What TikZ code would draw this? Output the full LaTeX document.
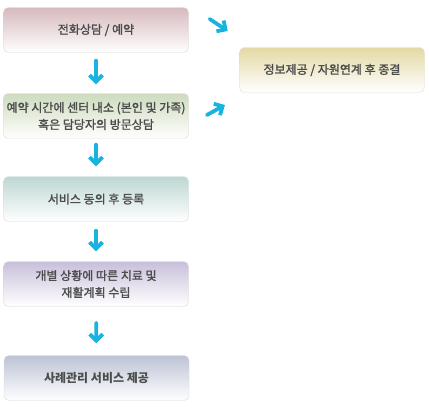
\documentclass[tikz,border=0pt]{standalone}
\usepackage{fontspec}
\setmainfont{Noto Sans CJK KR}
\newfontfamily\semibold[FakeBold=1.6]{Noto Sans CJK KR}
\usepackage{tikz}
\usetikzlibrary{arrows.meta, positioning, calc}
\definecolor{pinkc}{HTML}{D6B9BD}
\definecolor{greenc}{HTML}{CDDBBD}
\definecolor{tealc}{HTML}{BCD7D3}
\definecolor{purplec}{HTML}{C8BFDA}
\definecolor{slatec}{HTML}{BCC3D4}
\definecolor{yellowc}{HTML}{E3D9A4}
\definecolor{arrowc}{HTML}{19B3E0}
\definecolor{textc}{HTML}{4C4C4C}
\tikzset{
	stepbox/.style={draw=#1!55!gray!45, rounded corners=5pt, minimum width=185pt, minimum height=45pt,
		top color=#1, middle color=#1!75!white, bottom color=white, align=center,
		font=\semibold\fontsize{12}{17}\selectfont, text=textc},
	flowarr/.style={-{Straight Barb[length=6.5pt, width=13pt]}, line width=3.8pt, draw=arrowc, line cap=round},
}

\begin{document}
\begin{tikzpicture}[x=1pt, y=-1pt]
	\useasboundingbox (0,0) rectangle (429,408);

	% Steps
	\node[stepbox=pinkc] (call) at (96,30) {전화상담 / 예약};
	\node[stepbox=greenc] (visit) at (96,116) {예약 시간에 센터 내소 (본인 및 가족)\\혹은 담당자의 방문상담};
	\node[stepbox=tealc] (agree) at (96,199) {서비스 동의 후 등록};
	\node[stepbox=purplec] (plan) at (96,284) {개별 상황에 따른 치료 및\\재활계획 수립};
	\node[stepbox=slatec, font=\fontsize{12}{17}\selectfont\bfseries] (serv) at (96.5,378) {사례관리 서비스 제공};

	% Info / referral
	\node[stepbox=yellowc] (info) at (332,70) {정보제공 / 자원연계 후 종결};

	% Arrows
	\draw[flowarr, shorten <=8pt, shorten >=9pt] (call) -- (visit);
	\draw[flowarr, shorten <=6pt, shorten >=10pt] (visit) -- (agree);
	\draw[flowarr, shorten <=9pt, shorten >=10pt] (agree) -- (plan);
	\draw[flowarr, shorten <=16pt, shorten >=12pt] (plan) -- (serv);

	\coordinate (up1) at ($(call.east)+(21,-11)$);
	\coordinate (up2) at ($(call.east)+(39,1)$);
	\coordinate (lo1) at ($(visit.east)+(18,-1)$);
	\coordinate (lo2) at ($(visit.east)+(36,-11)$);
	\draw[flowarr] (up1) -- (up2);
	\draw[flowarr] (lo1) -- (lo2);
\end{tikzpicture}
\end{document}
